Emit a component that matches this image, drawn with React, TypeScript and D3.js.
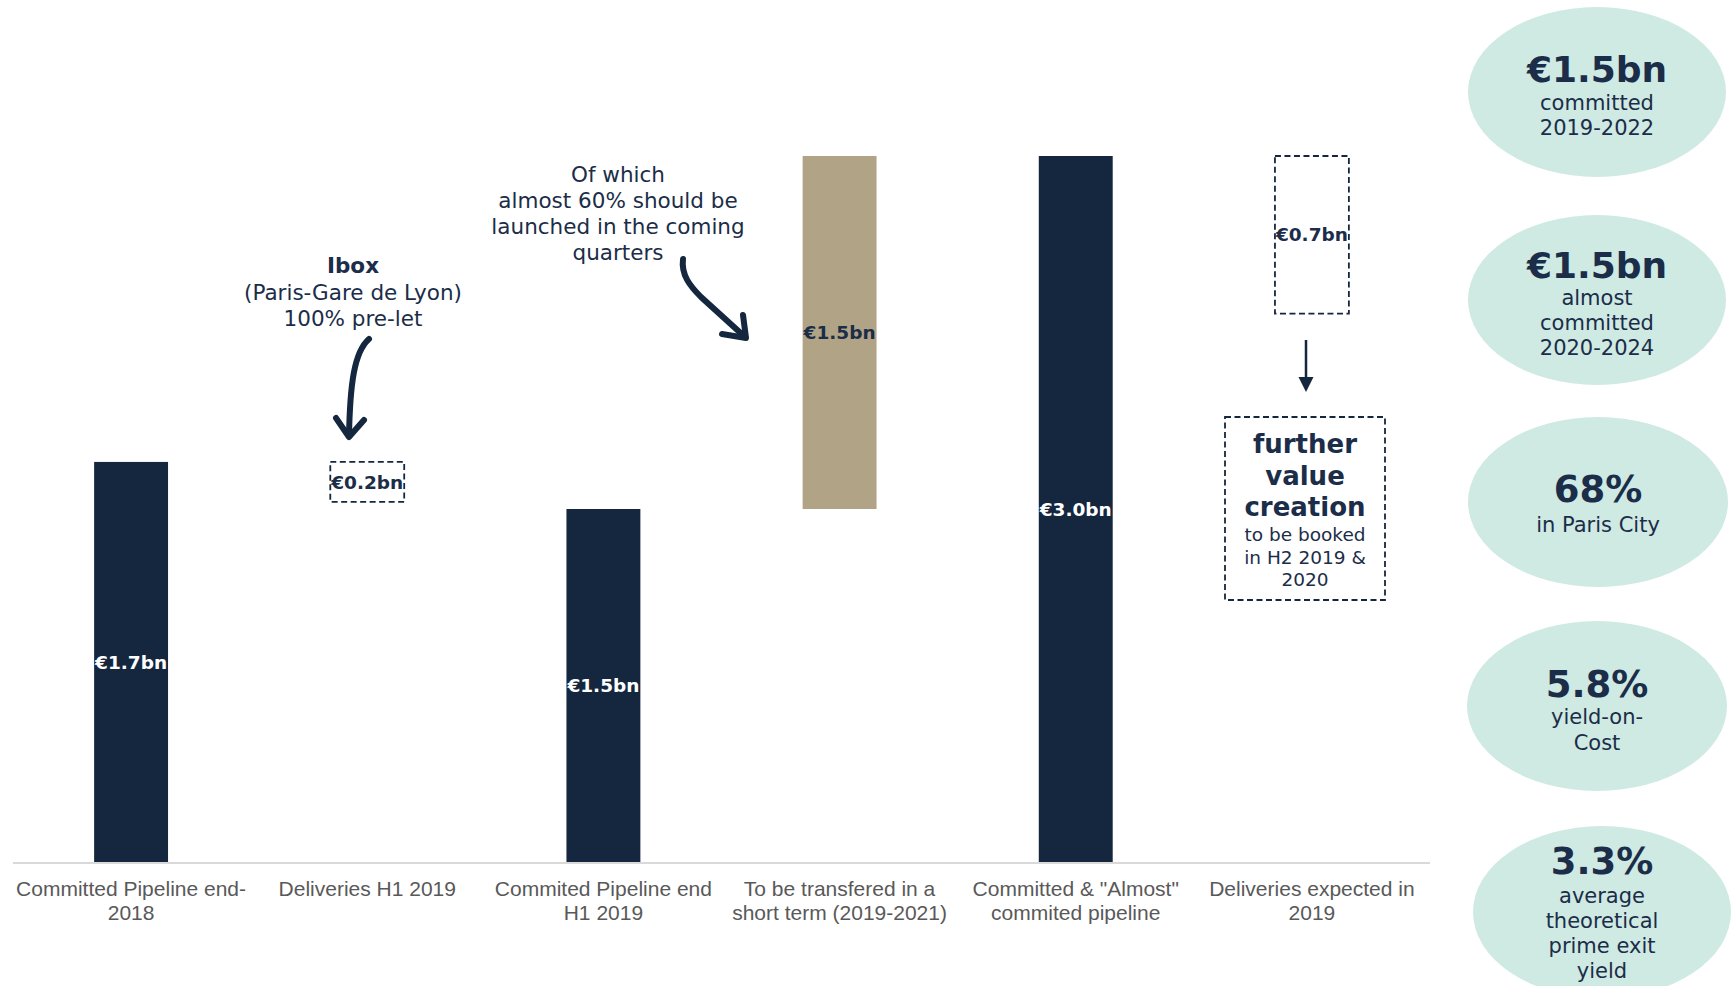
import React from "react";
import * as d3 from "d3";

const categories = [
  "Committed Pipeline end-2018",
  "Deliveries H1 2019",
  "Commited Pipeline end H1 2019",
  "To be transfered in a short term (2019-2021)",
  "Committed & \"Almost\" commited pipeline",
  "Deliveries expected in 2019",
];
const categoryLines = [
  ["Committed Pipeline end-", "2018"],
  ["Deliveries H1 2019"],
  ["Commited Pipeline end", "H1 2019"],
  ["To be transfered in a", "short term (2019-2021)"],
  ["Committed & \"Almost\"", "commited pipeline"],
  ["Deliveries expected in", "2019"],
];
const barStart = [0, 1.53, 0, 1.5, 0, 2.33];
const barEnd = [1.7, 1.7, 1.5, 3.0, 3.0, 3.0];
const barLabels = ["€1.7bn", "€0.2bn", "€1.5bn", "€1.5bn", "€3.0bn", "€0.7bn"];
const barKinds = ["total", "delta", "total", "added", "total", "delta"];

const highlightValues = ["€1.5bn", "€1.5bn", "68%", "5.8%", "3.3%"];
const highlightLines = [
  ["committed", "2019-2022"],
  ["almost", "committed", "2020-2024"],
  ["in Paris City"],
  ["yield-on-", "Cost"],
  ["average", "theoretical", "prime exit", "yield"],
];

const iboxLines = ["(Paris-Gare de Lyon)", "100% pre-let"];
const ofWhichLines = ["Of which", "almost 60% should be", "launched in the coming", "quarters"];
const furtherBold = ["further", "value", "creation"];
const furtherSmall = ["to be booked", "in H2 2019 &", "2020"];

const NAVY = "#14273F";
const TEXT = "#1B2D48";
const TAN = "#B1A385";
const MINT = "#CFE9E3";
const VERD = "'DejaVu Sans', Verdana, sans-serif";
const ARIAL = "'Liberation Sans', Arial, sans-serif";

export default function App() {
  const W = 1731;
  const H = 986;
  const x = d3
    .scaleBand<string>()
    .domain(categories)
    .range([13, 1430])
    .paddingInner(0.687)
    .paddingOuter(0.3435);
  const y = d3.scaleLinear().domain([0, 3.0]).range([862, 156]);
  const bw = x.bandwidth();

  const ellipses = [
    { cx: 1597, cy: 92, rx: 129, ry: 85, head: 82, sub: [110, 135], fs: 36 },
    { cx: 1597, cy: 300, rx: 129, ry: 85, head: 278, sub: [305, 330, 355], fs: 36 },
    { cx: 1598, cy: 502, rx: 130, ry: 85, head: 502, sub: [532], fs: 37 },
    { cx: 1597, cy: 706, rx: 130, ry: 85, head: 697, sub: [724, 750], fs: 37 },
    { cx: 1602, cy: 912, rx: 129, ry: 86, head: 874, sub: [903, 928, 953, 978], fs: 37 },
  ];

  return (
    <svg
      width={W}
      height={H}
      viewBox={`0 0 ${W} ${H}`}
      style={{ position: "absolute", left: 0, top: 0, display: "block", background: "#fff" }}
    >
      <rect x={0} y={0} width={W} height={H} fill="#fff" />
      {/* bars */}
      {categories.map((c, i) => {
        const x0 = x(c)!;
        const yTop = y(barEnd[i]);
        const yBot = y(barStart[i]);
        const kind = barKinds[i];
        const cx = x0 + bw / 2;
        const cy = (yTop + yBot) / 2;
        const fill = kind === "total" ? NAVY : kind === "added" ? TAN : "none";
        return (
          <g key={c}>
            <rect
              x={x0}
              y={yTop}
              width={bw}
              height={yBot - yTop}
              fill={fill}
              stroke={kind === "delta" ? NAVY : "none"}
              strokeWidth={kind === "delta" ? 1.8 : 0}
              strokeDasharray={kind === "delta" ? "6 3.5" : undefined}
            />
            <text
              x={cx}
              y={cy}
              dy="0.36em"
              textAnchor="middle"
              fontFamily={VERD}
              fontWeight="bold"
              fontSize={18.5}
              fill={kind === "total" ? "#fff" : TEXT}
            >
              {barLabels[i]}
            </text>
          </g>
        );
      })}
      {/* axis line */}
      <line x1={13} x2={1430} y1={y(0) + 1} y2={y(0) + 1} stroke="#D9D9D9" strokeWidth={2} />
      {/* category labels */}
      {categories.map((c, i) => (
        <text
          key={c}
          x={x(c)! + bw / 2}
          y={896}
          textAnchor="middle"
          fontFamily={ARIAL}
          fontSize={21}
          fill="#595959"
        >
          {categoryLines[i].map((l, j) => (
            <tspan key={j} x={x(c)! + bw / 2} dy={j === 0 ? 0 : 23.5}>
              {l}
            </tspan>
          ))}
        </text>
      ))}

      {/* Ibox annotation */}
      <text x={353} y={273} textAnchor="middle" fontFamily={VERD} fontSize={21.5} fill={TEXT} fontWeight="bold">
        Ibox
      </text>
      {iboxLines.map((l, j) => (
        <text key={l} x={353} y={300 + j * 26} textAnchor="middle" fontFamily={VERD} fontSize={21.5} fill={TEXT}>
          {l}
        </text>
      ))}
      <path d="M369,339 C354,352 350,385 349,436" fill="none" stroke={NAVY} strokeWidth={6} strokeLinecap="round" />
      <path d="M336,418 L349,437 L364,420" fill="none" stroke={NAVY} strokeWidth={6} strokeLinecap="round" strokeLinejoin="round" />

      {/* Of which annotation */}
      {ofWhichLines.map((l, j) => (
        <text key={l} x={618} y={182 + j * 26} textAnchor="middle" fontFamily={VERD} fontSize={21.5} fill={TEXT}>
          {l}
        </text>
      ))}
      <path d="M683,259 C681,275 690,286 701,297 L745,337" fill="none" stroke={NAVY} strokeWidth={6} strokeLinecap="round" />
      <path d="M722,334 L746,338 L743,315" fill="none" stroke={NAVY} strokeWidth={6} strokeLinecap="round" strokeLinejoin="round" />

      {/* arrow to further value */}
      <line x1={1306} x2={1306} y1={340} y2={378} stroke={NAVY} strokeWidth={2.5} />
      <path d="M1298.5,377 L1313.5,377 L1306,392 Z" fill={NAVY} />

      {/* further value creation box */}
      <rect x={1225} y={417} width={160} height={183} fill="none" stroke={NAVY} strokeWidth={1.8} strokeDasharray="6 3.5" />
      {furtherBold.map((l, j) => (
        <text key={l} x={1305} y={453 + j * 31.5} textAnchor="middle" fontFamily={VERD} fontWeight="bold" fontSize={26} fill={TEXT}>
          {l}
        </text>
      ))}
      {furtherSmall.map((l, j) => (
        <text key={l} x={1305} y={541 + j * 22.5} textAnchor="middle" fontFamily={VERD} fontSize={18.5} fill={TEXT}>
          {l}
        </text>
      ))}

      {/* highlight ellipses */}
      {ellipses.map((e, i) => (
        <g key={i}>
          <ellipse cx={e.cx} cy={e.cy} rx={e.rx} ry={e.ry} fill={MINT} />
          <text x={e.cx} y={e.head} textAnchor="middle" fontFamily={VERD} fontWeight="bold" fontSize={e.fs} fill={TEXT}>
            {highlightValues[i]}
          </text>
          {highlightLines[i].map((l, j) => (
            <text key={j} x={e.cx} y={e.sub[j]} textAnchor="middle" fontFamily={VERD} fontSize={21} fill={TEXT}>
              {l}
            </text>
          ))}
        </g>
      ))}
    </svg>
  );
}
